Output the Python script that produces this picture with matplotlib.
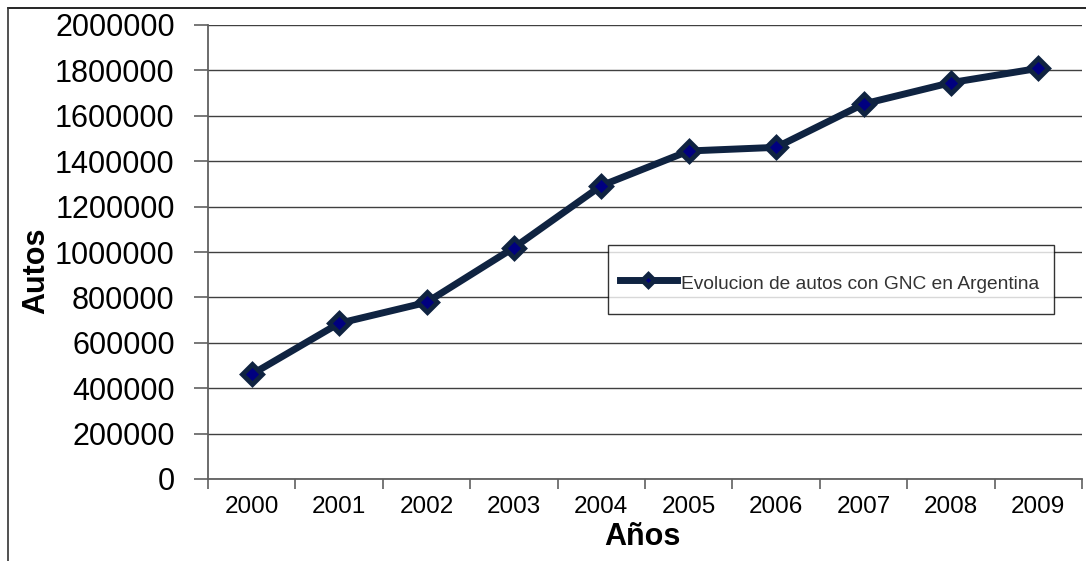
import matplotlib.pyplot as plt
from matplotlib.lines import Line2D
from matplotlib.offsetbox import DrawingArea

plt.rcParams['font.family'] = ['Liberation Sans', 'DejaVu Sans']

# Parque automotor a GNC en Argentina
years = ["2000", "2001", "2002", "2003", "2004", "2005", "2006", "2007", "2008", "2009"]
autos = [461000, 686000, 778000, 1019000, 1292000, 1445000, 1461000, 1652000, 1746000, 1809000]
y_ticks = [0, 200000, 400000, 600000, 800000, 1000000, 1200000, 1400000, 1600000, 1800000, 2000000]
serie = "Evolucion de autos con GNC en Argentina"

W, H = 1086, 561
fig = plt.figure(figsize=(W / 100, H / 100), dpi=100)
ax = fig.add_axes([208 / W, (H - 479) / H, (1082 - 208) / W, (479 - 25) / H])

x = list(range(len(years)))
ax.plot(x, autos, color="#0f2341", lw=5, solid_joinstyle="round",
        marker="D", markersize=10, markerfacecolor="#000080",
        markeredgecolor="#0f2341", markeredgewidth=3.5, label=serie, zorder=3)

ax.set_xlim(-0.5, len(years) - 0.5)
ax.set_ylim(0, 2000000)
ax.set_yticks(y_ticks)
ax.set_yticklabels([str(v) for v in y_ticks], fontsize=22)
ax.set_xticks(x)
ax.set_xticklabels(years, fontsize=17.5)
ax.set_xticks([i - 0.5 for i in range(len(years) + 1)], minor=True)
ax.tick_params(axis="x", which="major", length=0, pad=12)
ax.tick_params(axis="x", which="minor", length=7, width=1.2, color="#606060", direction="out")
ax.tick_params(axis="y", length=10, width=1.2, color="#606060", direction="out", pad=14)

ax.grid(axis="y", color="#404040", lw=1)
ax.set_axisbelow(True)
for s in ["top", "right"]:
    ax.spines[s].set_visible(False)
for s in ["left", "bottom"]:
    ax.spines[s].set_color("#606060")
    ax.spines[s].set_linewidth(1.3)

fig.text(36 / W, 1 - 271 / H, "Autos", rotation=90, fontsize=22, fontweight="bold",
         ha="center", va="center")
fig.text(642 / W, 1 - 537 / H, "Años", fontsize=22, fontweight="bold",
         ha="center", va="center")

leg = ax.legend(loc="center", bbox_to_anchor=(608 / W, (H - 314) / H, 446 / W, 69 / H),
                bbox_transform=fig.transFigure, mode="expand", borderaxespad=0,
                fontsize=13.8, frameon=True, fancybox=False, borderpad=0.6,
                handlelength=3.0, handletextpad=0.2, handleheight=3.3,
                markerscale=0.6)
leg.get_frame().set_edgecolor("black")
leg.get_frame().set_linewidth(1)
for t in leg.get_texts():
    t.set_color("#333333")
    t.set_y(-4)
# centrar la muestra de linea en el recuadro (unidades en puntos)
for da in leg.findobj(DrawingArea):
    for art in da.get_children():
        if isinstance(art, Line2D):
            art.set_ydata([y - 6.8 for y in art.get_ydata()])

# marco exterior del grafico
fig.add_artist(Line2D([8 / W, 1], [1 - 8 / H, 1 - 8 / H], transform=fig.transFigure,
                      color="black", lw=1.2))
fig.add_artist(Line2D([8 / W, 8 / W], [0, 1 - 8 / H], transform=fig.transFigure,
                      color="#333333", lw=1.2))

fig.savefig("out.png", dpi=100)
